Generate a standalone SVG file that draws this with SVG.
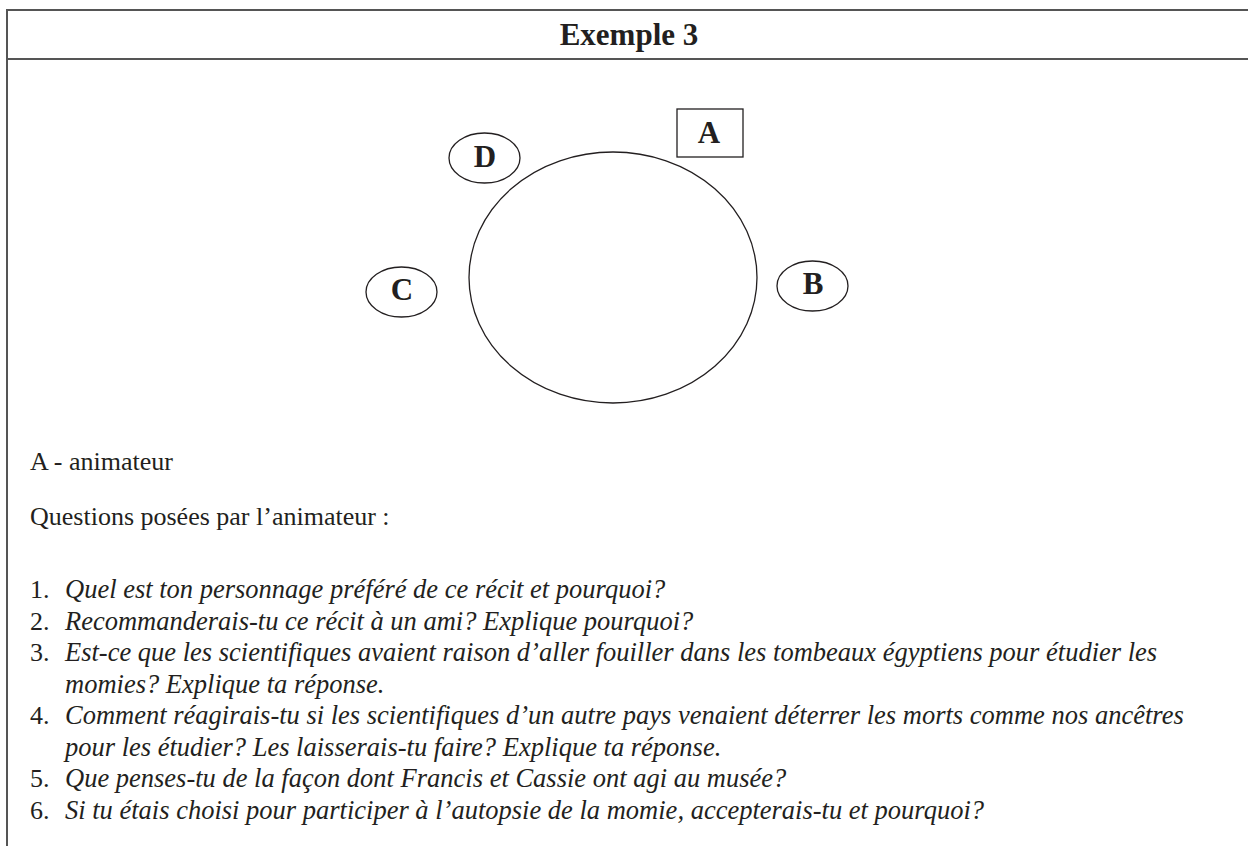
<svg xmlns="http://www.w3.org/2000/svg" width="1248" height="846" viewBox="0 0 1248 846">
<style>
.frame{stroke:#555;stroke-width:2;fill:none}
.shape{stroke:#231f20;stroke-width:1.3;fill:#fff}
.lbl{font-family:"Liberation Serif","Times New Roman",serif;font-weight:bold;font-size:31px;fill:#231f20;text-anchor:middle}
.title{font-family:"Liberation Serif","Times New Roman",serif;font-weight:bold;font-size:31px;fill:#231f20;text-anchor:middle}
.body{font-family:"Liberation Serif","Times New Roman",serif;font-size:26px;fill:#231f20}
.it{font-style:italic;font-size:26.5px}
</style>
<rect width="1248" height="846" fill="#fff"/>
<g id="frame">
<line class="frame" x1="7" y1="10" x2="1248" y2="10"/>
<line class="frame" x1="7" y1="59" x2="1248" y2="59"/>
<line class="frame" x1="7" y1="9" x2="7" y2="846"/>
</g>
<g id="title"><text class="title" x="629" y="45">Exemple 3</text></g>
<g id="table"><ellipse class="shape" cx="613" cy="277.5" rx="144" ry="125.5"/></g>
<g id="nodeA"><rect class="shape" x="677" y="109" width="66" height="48"/><text class="lbl" x="709" y="143">A</text></g>
<g id="nodeB"><ellipse class="shape" cx="812.5" cy="286" rx="35.5" ry="25"/><text class="lbl" x="813" y="294">B</text></g>
<g id="nodeC"><ellipse class="shape" cx="401.5" cy="292" rx="35.5" ry="25"/><text class="lbl" x="402" y="300">C</text></g>
<g id="nodeD"><ellipse class="shape" cx="484.5" cy="158" rx="35.5" ry="25"/><text class="lbl" x="485" y="167">D</text></g>
<g id="connectors"></g>
<g id="text">
<text class="body" x="30" y="470">A - animateur</text>
<text class="body" x="30" y="525">Questions posées par l’animateur :</text>
<text class="body" x="30" y="598">1.</text><text class="body it" x="65" y="598">Quel est ton personnage préféré de ce récit et pourquoi?</text>
<text class="body" x="30" y="629.5">2.</text><text class="body it" x="65" y="629.5">Recommanderais-tu ce récit à un ami? Explique pourquoi?</text>
<text class="body" x="30" y="661">3.</text><text class="body it" x="65" y="661">Est-ce que les scientifiques avaient raison d’aller fouiller dans les tombeaux égyptiens pour étudier les</text>
<text class="body it" x="65" y="692.5">momies? Explique ta réponse.</text>
<text class="body" x="30" y="724">4.</text><text class="body it" x="65" y="724">Comment réagirais-tu si les scientifiques d’un autre pays venaient déterrer les morts comme nos ancêtres</text>
<text class="body it" x="65" y="755.5">pour les étudier? Les laisserais-tu faire? Explique ta réponse.</text>
<text class="body" x="30" y="787">5.</text><text class="body it" x="65" y="787">Que penses-tu de la façon dont Francis et Cassie ont agi au musée?</text>
<text class="body" x="30" y="818.5">6.</text><text class="body it" x="65" y="818.5">Si tu étais choisi pour participer à l’autopsie de la momie, accepterais-tu et pourquoi?</text>
</g>
</svg>
